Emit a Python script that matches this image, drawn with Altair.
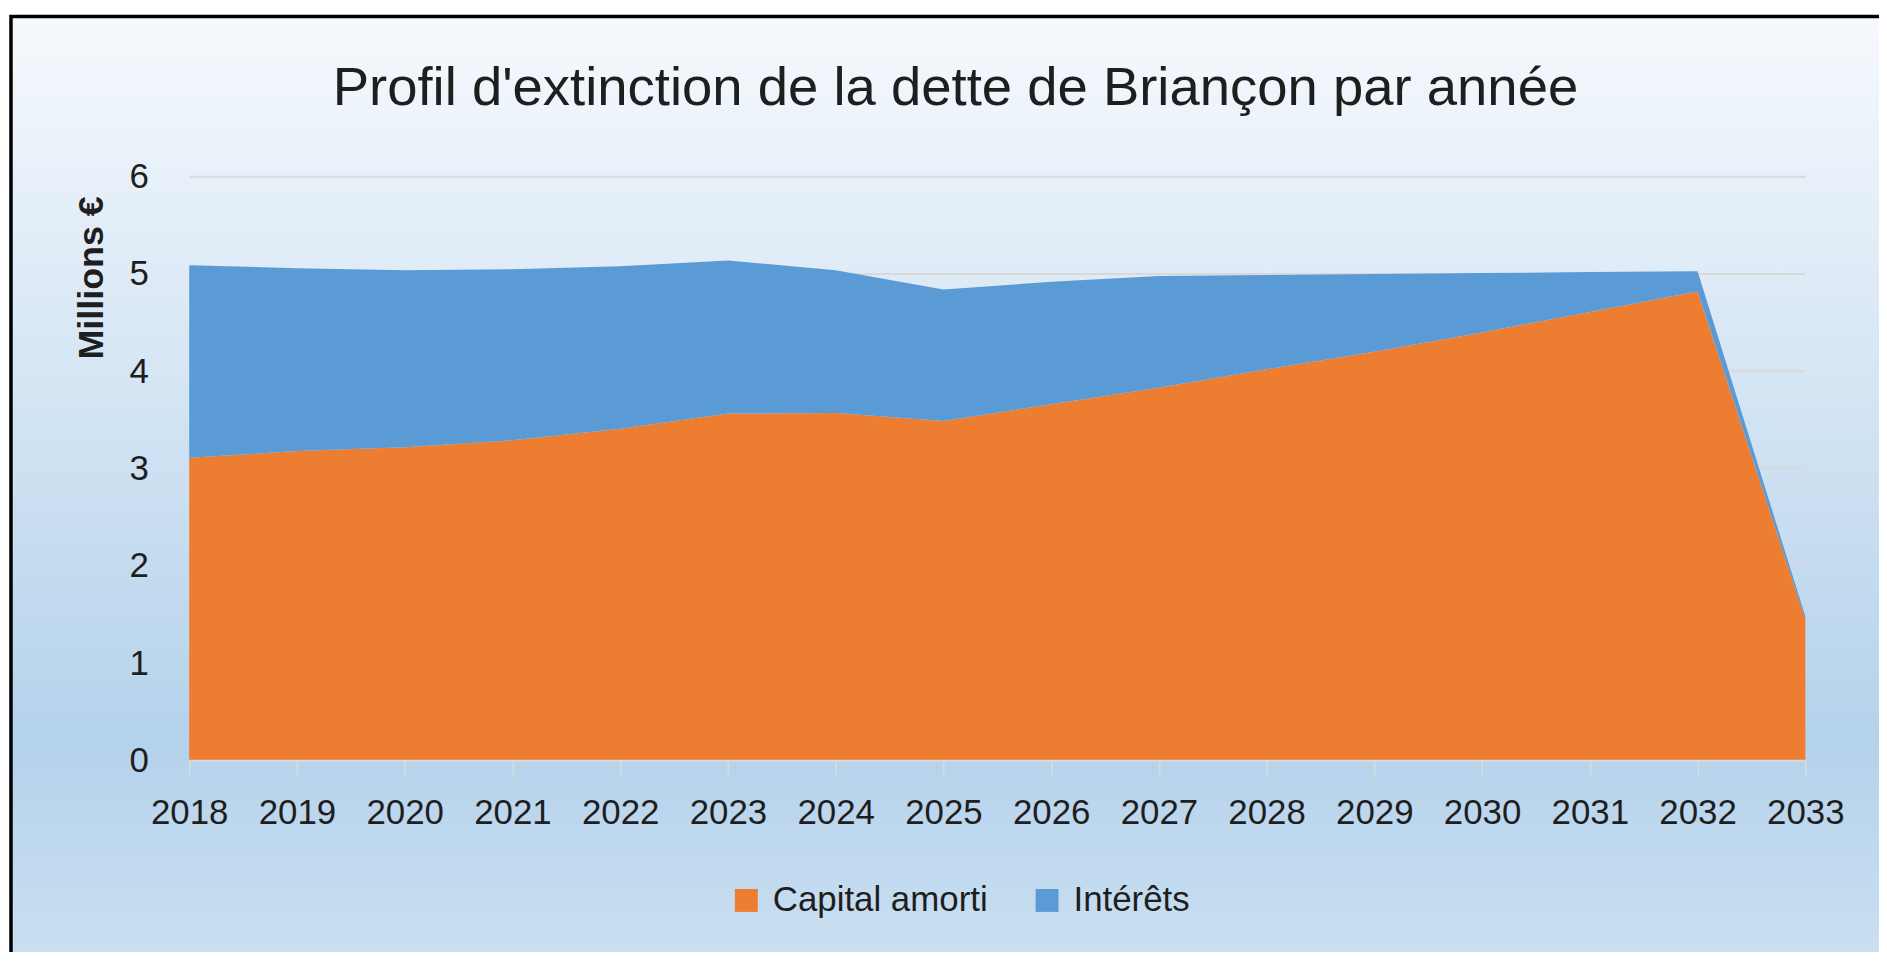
import altair as alt
import pandas as pd

annees = [2018, 2019, 2020, 2021, 2022, 2023, 2024, 2025, 2026, 2027, 2028, 2029, 2030, 2031, 2032, 2033]
capital_amorti = [3.11, 3.18, 3.22, 3.29, 3.41, 3.565, 3.57, 3.49, 3.66, 3.83, 4.02, 4.20, 4.40, 4.61, 4.82, 1.45]
interets = [1.98, 1.88, 1.82, 1.76, 1.67, 1.575, 1.47, 1.35, 1.26, 1.15, 0.97, 0.80, 0.61, 0.41, 0.21, 0.03]
series = ["Capital amorti", "Intérêts"]
couleurs = ["#ED7D31", "#5B9BD5"]
y_ticks = [0, 1, 2, 3, 4, 5, 6]

rows = []
for i, a in enumerate(annees):
    rows.append({"annee": str(a), "serie": series[0], "ord": 0, "valeur": capital_amorti[i]})
    rows.append({"annee": str(a), "serie": series[1], "ord": 1, "valeur": interets[i]})
df = pd.DataFrame(rows)
grid_df = pd.DataFrame({"valeur": y_ticks})

FONT = "Liberation Sans, Arial, sans-serif"
TXT = "#1e1e1e"

y_axis = alt.Axis(
    values=y_ticks,
    title="Millions €",
    titleFont=FONT,
    titleFontSize=36,
    titleFontWeight="bold",
    titleColor=TXT,
    titleAngle=270,
    titleAlign="center",
    titleBaseline="alphabetic",
    titleX=-87,
    titleY=101,
    labelFont=FONT,
    labelFontSize=35,
    labelColor=TXT,
    labelPadding=41,
    ticks=False,
    domain=False,
    grid=False,
    zindex=1,
)
y_scale = alt.Scale(domain=[0, 6], nice=False)

bg = alt.Chart(alt.Data(values=[{"k": 1}])).mark_rect(
    fill=alt.LinearGradient(
        gradient="linear",
        stops=[
            alt.GradientStop(color="#F6F9FD", offset=0),
            alt.GradientStop(color="#B4D2EB", offset=0.74),
            alt.GradientStop(color="#CFE2F3", offset=1),
        ],
        x1=0, x2=0, y1=0, y2=1,
    ),
    stroke="#000000",
    strokeWidth=3.5,
).encode(
    x=alt.value(-179),
    x2=alt.value(1760),
    y=alt.value(-161),
    y2=alt.value(825),
)

grid = alt.Chart(grid_df).mark_rule(color="#D9D9D9", strokeWidth=2).encode(
    y=alt.Y("valeur:Q", scale=y_scale, axis=y_axis),
    x=alt.value(0),
    x2=alt.value("width"),
)

area = alt.Chart(df).mark_area(opacity=1, interpolate="linear").encode(
    x=alt.X(
        "annee:O",
        scale=alt.Scale(type="point", padding=0),
        sort=[str(a) for a in annees],
        axis=alt.Axis(
            title=None,
            labelAngle=0,
            labelFont=FONT,
            labelFontSize=35,
            labelColor=TXT,
            labelPadding=21,
            tickSize=14,
            tickColor="#D9D9D9",
            tickWidth=2,
            domainColor="#D9D9D9",
            domainWidth=2,
            grid=False,
            labelBaseline="top",
            zindex=1,
        ),
    ),
    y=alt.Y("valeur:Q", stack="zero", scale=y_scale, axis=y_axis),
    color=alt.Color(
        "serie:N",
        scale=alt.Scale(domain=series, range=couleurs),
        legend=alt.Legend(
            title=None,
            orient="none",
            legendX=542,
            legendY=709,
            direction="horizontal",
            symbolType="square",
            symbolSize=529,
            symbolStrokeWidth=0,
            labelFont=FONT,
            labelFontSize=35,
            labelColor=TXT,
            labelOffset=9,
            labelLimit=500,
            columnPadding=42,
            padding=0,
        ),
    ),
    order=alt.Order("ord:Q"),
)

chart = alt.layer(bg, grid, area).properties(
    width=1623,
    height=586,
    autosize=alt.AutoSizeParams(type="none"),
    padding={"left": 182, "top": 167.5, "right": 74, "bottom": 190.5},
    title=alt.TitleParams(
        text="Profil d'extinction de la dette de Briançon par année",
        font=FONT,
        fontSize=54.7,
        fontWeight="normal",
        color=TXT,
        anchor="middle",
        frame="group",
        dx=-42,
        offset=0,
        dy=145.5,
        baseline="alphabetic",
        zindex=1,
    ),
).configure_view(stroke=None).configure(background="#FFFFFF")

chart.save("out.html", embed_options={"renderer": "svg", "actions": False})
